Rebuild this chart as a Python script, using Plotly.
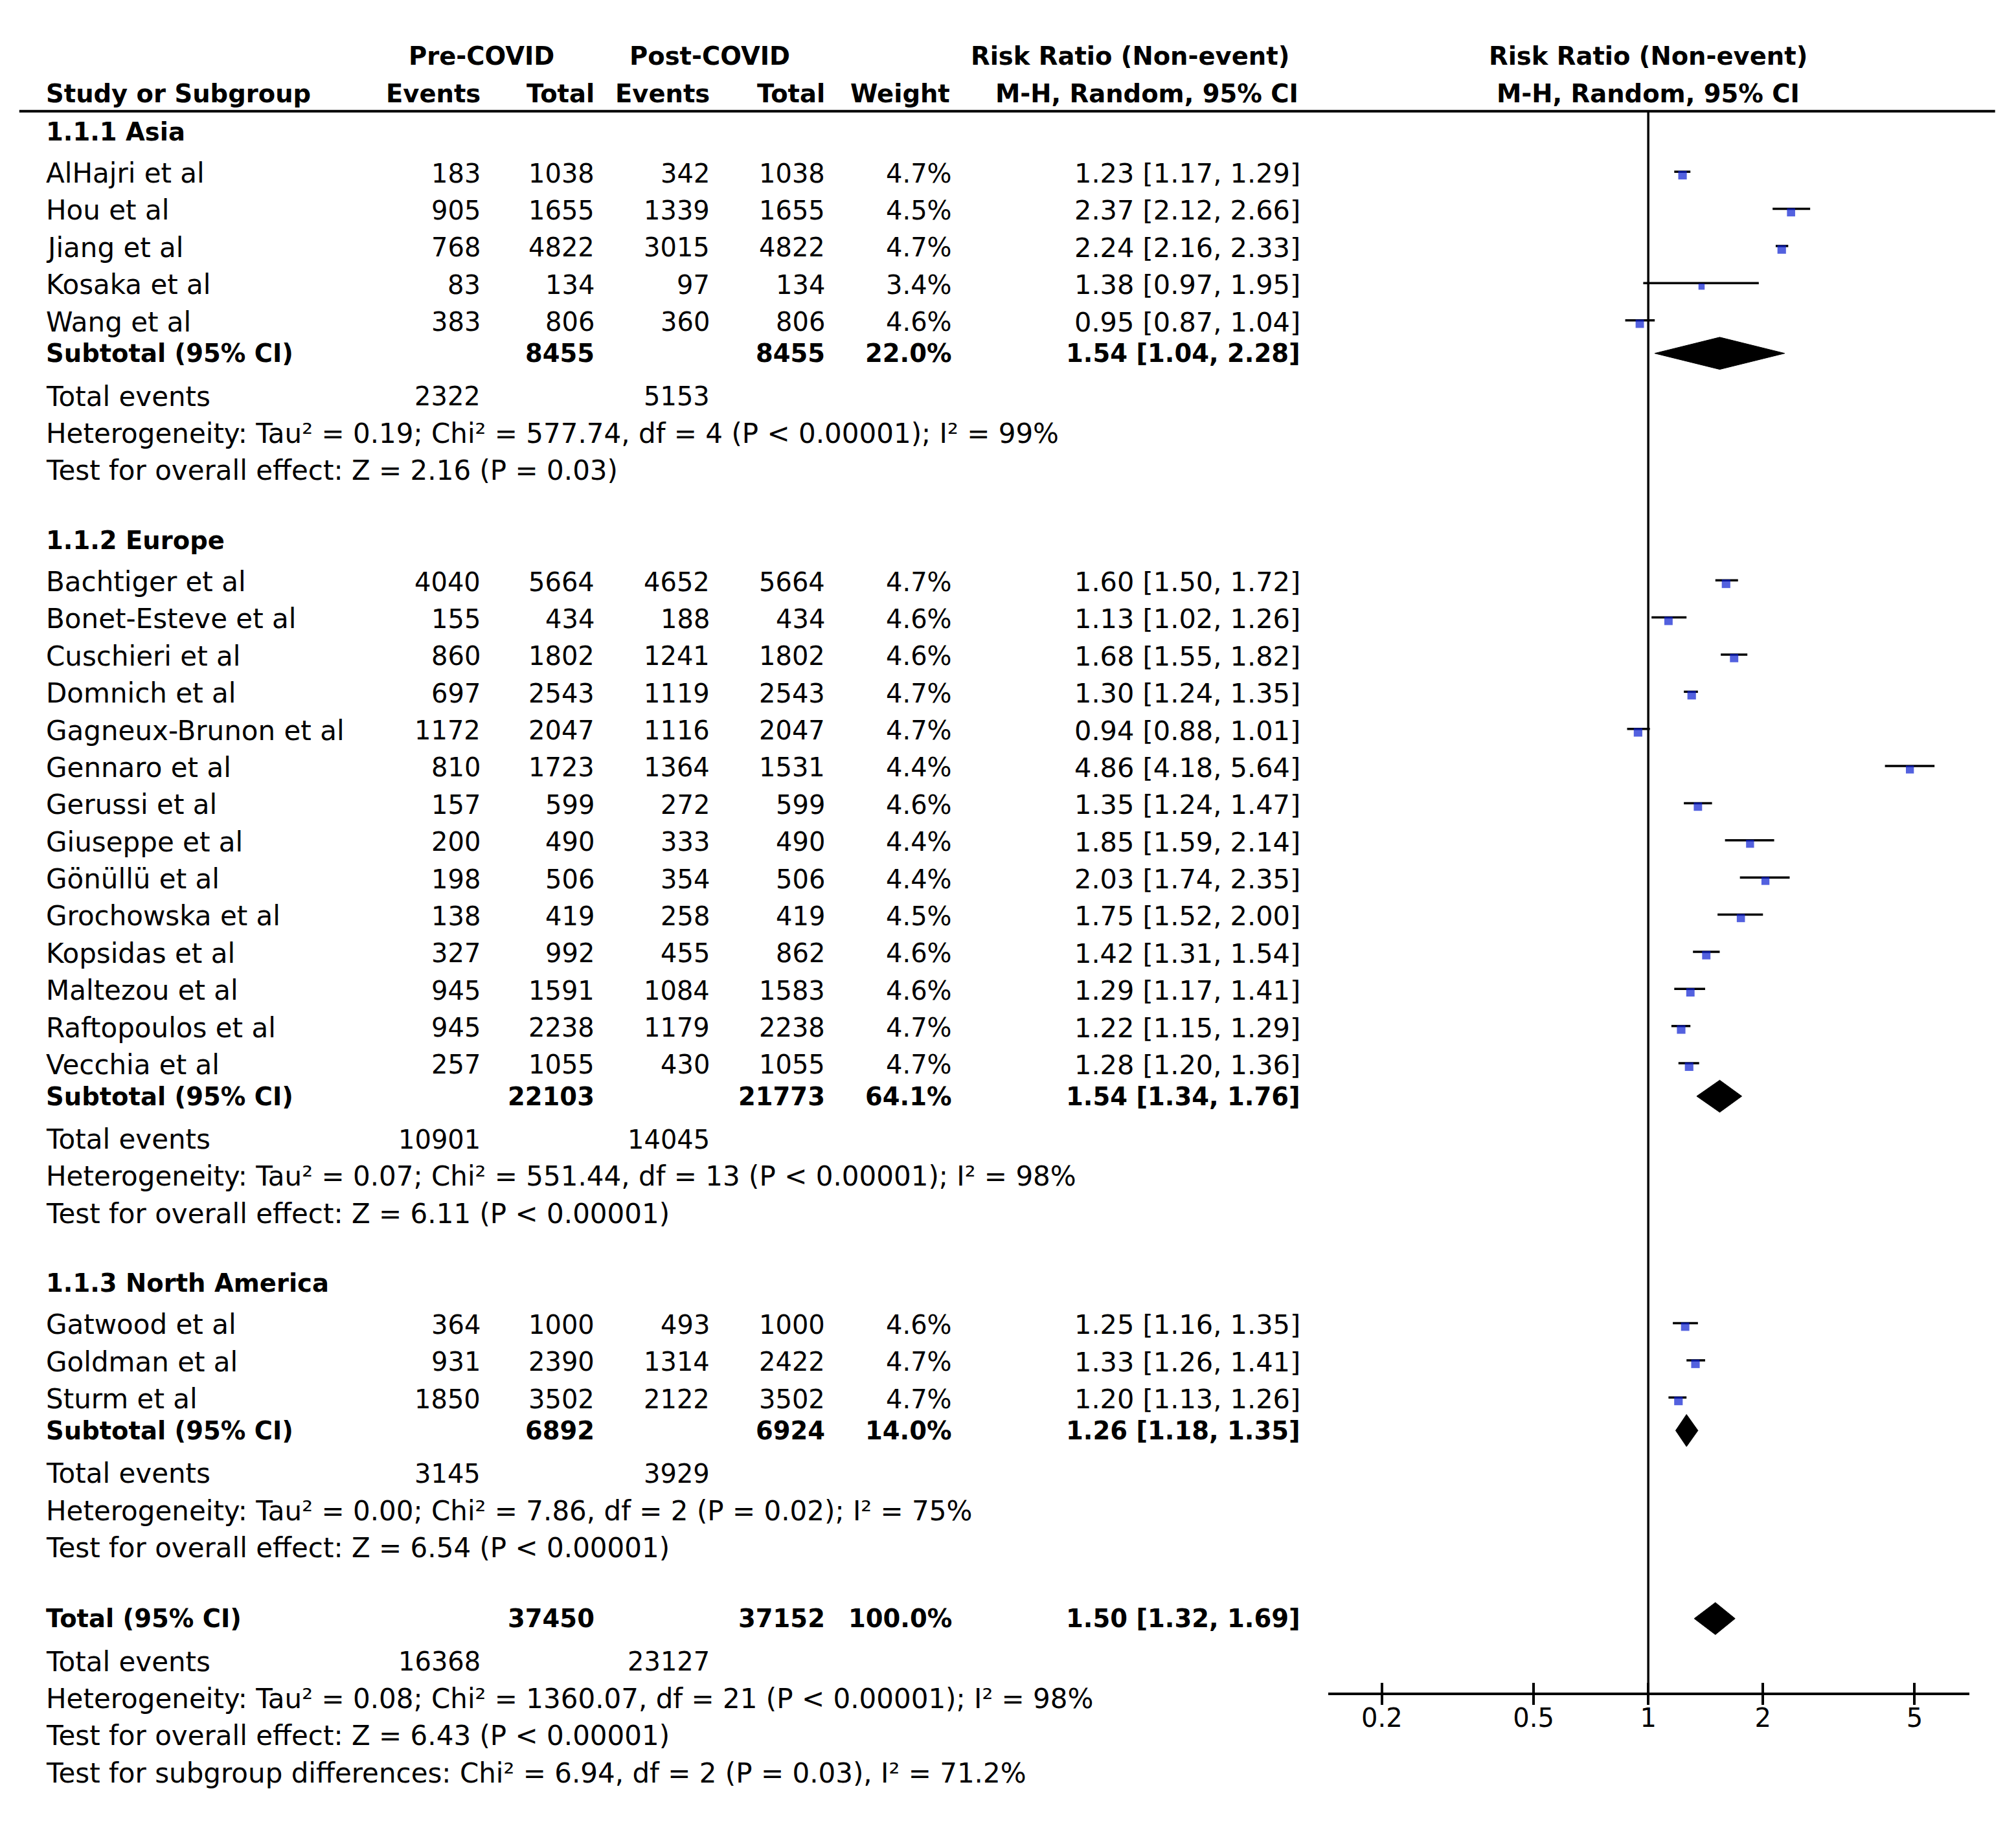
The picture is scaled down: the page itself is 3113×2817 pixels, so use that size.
import plotly.graph_objects as go
import math

# ---------------- data ----------------
studies = ["AlHajri et al", "Hou et al", "Jiang et al", "Kosaka et al", "Wang et al",
           "Bachtiger et al", "Bonet-Esteve et al", "Cuschieri et al", "Domnich et al",
           "Gagneux-Brunon et al", "Gennaro et al", "Gerussi et al", "Giuseppe et al",
           "Gönüllü et al", "Grochowska et al", "Kopsidas et al", "Maltezou et al",
           "Raftopoulos et al", "Vecchia et al",
           "Gatwood et al", "Goldman et al", "Sturm et al"]
study_group = [0] * 5 + [1] * 14 + [2] * 3
pre_events = [183, 905, 768, 83, 383,
              4040, 155, 860, 697, 1172, 810, 157, 200, 198, 138, 327, 945, 945, 257,
              364, 931, 1850]
pre_total = [1038, 1655, 4822, 134, 806,
             5664, 434, 1802, 2543, 2047, 1723, 599, 490, 506, 419, 992, 1591, 2238, 1055,
             1000, 2390, 3502]
post_events = [342, 1339, 3015, 97, 360,
               4652, 188, 1241, 1119, 1116, 1364, 272, 333, 354, 258, 455, 1084, 1179, 430,
               493, 1314, 2122]
post_total = [1038, 1655, 4822, 134, 806,
              5664, 434, 1802, 2543, 2047, 1531, 599, 490, 506, 419, 862, 1583, 2238, 1055,
              1000, 2422, 3502]
weight = [4.7, 4.5, 4.7, 3.4, 4.6,
          4.7, 4.6, 4.6, 4.7, 4.7, 4.4, 4.6, 4.4, 4.4, 4.5, 4.6, 4.6, 4.7, 4.7,
          4.6, 4.7, 4.7]
rr = [1.23, 2.37, 2.24, 1.38, 0.95,
      1.60, 1.13, 1.68, 1.30, 0.94, 4.86, 1.35, 1.85, 2.03, 1.75, 1.42, 1.29, 1.22, 1.28,
      1.25, 1.33, 1.20]
rr_lo = [1.17, 2.12, 2.16, 0.97, 0.87,
         1.50, 1.02, 1.55, 1.24, 0.88, 4.18, 1.24, 1.59, 1.74, 1.52, 1.31, 1.17, 1.15, 1.20,
         1.16, 1.26, 1.13]
rr_hi = [1.29, 2.66, 2.33, 1.95, 1.04,
         1.72, 1.26, 1.82, 1.35, 1.01, 5.64, 1.47, 2.14, 2.35, 2.00, 1.54, 1.41, 1.29, 1.36,
         1.35, 1.41, 1.26]

group_names = ["1.1.1 Asia", "1.1.2 Europe", "1.1.3 North America"]
sub_pre_total = [8455, 22103, 6892]
sub_post_total = [8455, 21773, 6924]
sub_weight = [22.0, 64.1, 14.0]
sub_rr = [1.54, 1.54, 1.26]
sub_lo = [1.04, 1.34, 1.18]
sub_hi = [2.28, 1.76, 1.35]
sub_pre_events = [2322, 10901, 3145]
sub_post_events = [5153, 14045, 3929]
sub_het = ["Heterogeneity: Tau² = 0.19; Chi² = 577.74, df = 4 (P < 0.00001); I² = 99%",
           "Heterogeneity: Tau² = 0.07; Chi² = 551.44, df = 13 (P < 0.00001); I² = 98%",
           "Heterogeneity: Tau² = 0.00; Chi² = 7.86, df = 2 (P = 0.02); I² = 75%"]
sub_test = ["Test for overall effect: Z = 2.16 (P = 0.03)",
            "Test for overall effect: Z = 6.11 (P < 0.00001)",
            "Test for overall effect: Z = 6.54 (P < 0.00001)"]

tot_pre_total = 37450
tot_post_total = 37152
tot_weight = 100.0
tot_rr, tot_lo, tot_hi = 1.50, 1.32, 1.69
tot_pre_events = 16368
tot_post_events = 23127
tot_het = "Heterogeneity: Tau² = 0.08; Chi² = 1360.07, df = 21 (P < 0.00001); I² = 98%"
tot_test = "Test for overall effect: Z = 6.43 (P < 0.00001)"
tot_subgroup = "Test for subgroup differences: Chi² = 6.94, df = 2 (P = 0.03), I² = 71.2%"

tick_vals = [0.2, 0.5, 1, 2, 5]
tick_text = ["0.2", "0.5", "1", "2", "5"]

# ---------------- layout geometry (design units) ----------------
W, H = 3113, 2817
S = 1.985                      # design unit -> pixel
DW, DH = W / S, H / S          # design canvas size
FONT = "DejaVu Sans"
FS_BOLD = 38.5
FS_REG = 42
FS_NUM = 40
BLUE = "#0A1ED2"

def px(d):
    return d / DW

def py(d):
    return 1 - d / DH

COL_NAME = 35
COL_PRE_EV = 375
COL_PRE_TOT = 463.5
COL_POST_EV = 553
COL_POST_TOT = 643
COL_W = 741.5
COL_CI = 1012.5
PLOT_L, PLOT_R = 1033, 1532
CENTER_X = 1282.2
DECADE = 296.4
AXIS_Y = 1317
HEAD_LINE_Y = 86.5

PITCH = 28.9
annotations = []

def cell(text, x, y, anchor="right", bold=False, size=None):
    if size is None:
        size = FS_BOLD if bold else FS_NUM
    t = f"<b>{text}</b>" if bold else text
    annotations.append(dict(text=t, x=px(x), y=py(y), xref="paper", yref="paper",
                            xanchor=anchor, yanchor="middle", showarrow=False,
                            font=dict(family=FONT, size=size, color="black")))

def label(text, x, y):
    cell(text, x, y, "left", False, FS_REG)

def fmt_ci(a, b, c):
    return f"{a:.2f} [{b:.2f}, {c:.2f}]"

# headers
cell("Pre-COVID", 374.5, 43.8, "center", True)
cell("Post-COVID", 552, 43.8, "center", True)
cell("Risk Ratio (Non-event)", 1004, 43.8, "right", True)
cell("Risk Ratio (Non-event)", CENTER_X, 43.8, "center", True)
cell("Study or Subgroup", COL_NAME, 73, "left", True)
cell("Events", COL_PRE_EV, 73, "right", True)
cell("Total", COL_PRE_TOT, 73, "right", True)
cell("Events", COL_POST_EV, 73, "right", True)
cell("Total", COL_POST_TOT, 73, "right", True)
cell("Weight", 740, 73, "right", True)
cell("M-H, Random, 95% CI", 1011, 73, "right", True)
cell("M-H, Random, 95% CI", CENTER_X, 73, "center", True)

study_y = [0.0] * len(studies)
sub_y = []
y = 102.3
for g, gname in enumerate(group_names):
    cell(gname, COL_NAME, y, "left", True)
    idx = [i for i, sg in enumerate(study_group) if sg == g]
    yy = y + 32.5
    for k, i in enumerate(idx):
        yi = yy + k * PITCH
        study_y[i] = yi
        label(studies[i], COL_NAME, yi)
        cell(str(pre_events[i]), COL_PRE_EV, yi)
        cell(str(pre_total[i]), COL_PRE_TOT, yi)
        cell(str(post_events[i]), COL_POST_EV, yi)
        cell(str(post_total[i]), COL_POST_TOT, yi)
        cell(f"{weight[i]:.1f}%", COL_W, yi)
        cell(fmt_ci(rr[i], rr_lo[i], rr_hi[i]), COL_CI, yi, size=41.5)
    ys = study_y[idx[-1]] + 24.5
    sub_y.append(ys)
    cell("Subtotal (95% CI)", COL_NAME, ys, "left", True)
    cell(str(sub_pre_total[g]), COL_PRE_TOT, ys, bold=True)
    cell(str(sub_post_total[g]), COL_POST_TOT, ys, bold=True)
    cell(f"{sub_weight[g]:.1f}%", COL_W, ys, bold=True)
    cell(fmt_ci(sub_rr[g], sub_lo[g], sub_hi[g]), COL_CI, ys, bold=True)
    yt = ys + 33.5
    label("Total events", COL_NAME, yt)
    cell(str(sub_pre_events[g]), COL_PRE_EV, yt)
    cell(str(sub_post_events[g]), COL_POST_EV, yt)
    label(sub_het[g], COL_NAME, yt + PITCH)
    label(sub_test[g], COL_NAME, yt + 2 * PITCH)
    y = yt + 2 * PITCH + 54

total_y = y + 1
cell("Total (95% CI)", COL_NAME, total_y, "left", True)
cell(str(tot_pre_total), COL_PRE_TOT, total_y, bold=True)
cell(str(tot_post_total), COL_POST_TOT, total_y, bold=True)
cell(f"{tot_weight:.1f}%", COL_W, total_y, bold=True)
cell(fmt_ci(tot_rr, tot_lo, tot_hi), COL_CI, total_y, bold=True)
yt = total_y + 33.5
label("Total events", COL_NAME, yt)
cell(str(tot_pre_events), COL_PRE_EV, yt)
cell(str(tot_post_events), COL_POST_EV, yt)
label(tot_het, COL_NAME, yt + PITCH)
label(tot_test, COL_NAME, yt + 2 * PITCH)
label(tot_subgroup, COL_NAME, yt + 3 * PITCH)

# ---------------- forest marks ----------------
fig = go.Figure()

ci_x, ci_y = [], []
for i in range(len(studies)):
    ci_x += [rr_lo[i], rr_hi[i], None]
    ci_y += [study_y[i] - 1.2, study_y[i] - 1.2, None]
fig.add_trace(go.Scatter(x=ci_x, y=ci_y, mode="lines",
                         line=dict(color="black", width=3.5),
                         hoverinfo="skip", showlegend=False, cliponaxis=False))

fig.add_trace(go.Scatter(x=rr, y=[v + 1.5 for v in study_y], mode="markers",
                         marker=dict(symbol="square", color=BLUE,
                                     size=[w * 2.8 for w in weight], line=dict(width=0)),
                         showlegend=False, cliponaxis=False))

HALF = 12.5
dx, dy = [], []
for est, lo, hi, yc in list(zip(sub_rr, sub_lo, sub_hi, sub_y)) + [(tot_rr, tot_lo, tot_hi, total_y)]:
    dx += [lo, est, hi, est, lo, None]
    dy += [yc, yc - HALF, yc, yc + HALF, yc, None]
fig.add_trace(go.Scatter(x=dx, y=dy, mode="lines", fill="toself", fillcolor="black",
                         line=dict(color="black", width=1), showlegend=False,
                         hoverinfo="skip"))

# ---------------- axes ----------------
x_left = (PLOT_L - CENTER_X) / DECADE
x_right = (PLOT_R - CENTER_X) / DECADE
dom = [px(PLOT_L), px(PLOT_R)]
ydom = [1 - AXIS_Y / DH, 1]

common_x = dict(type="log", domain=dom, range=[x_left, x_right], showgrid=False,
                zeroline=False, showline=True, linecolor="black", linewidth=4,
                tickmode="array", tickvals=tick_vals, ticklen=15, tickwidth=3.5,
                tickcolor="black", fixedrange=True)

fig.update_layout(
    width=W, height=H,
    margin=dict(l=0, r=0, t=0, b=0),
    paper_bgcolor="white", plot_bgcolor="white",
    xaxis=dict(**common_x, ticks="outside", ticktext=tick_text,
               ticklabelstandoff=-14,
               tickfont=dict(family=FONT, size=FS_NUM, color="black")),
    xaxis2=dict(**common_x, ticks="inside", showticklabels=False,
                overlaying="x", anchor="y", side="bottom"),
    yaxis=dict(domain=ydom, range=[AXIS_Y, 0], visible=False, fixedrange=True),
    annotations=annotations,
    shapes=[
        dict(type="line", xref="paper", yref="paper", x0=px(15), x1=px(1552),
             y0=py(HEAD_LINE_Y), y1=py(HEAD_LINE_Y), line=dict(color="black", width=4)),
        dict(type="line", xref="x", yref="y", x0=1, x1=1, y0=HEAD_LINE_Y, y1=AXIS_Y,
             line=dict(color="black", width=3.5)),
    ],
    showlegend=False,
)
# invisible trace to activate the overlay axis
fig.add_trace(go.Scatter(x=[1], y=[AXIS_Y], xaxis="x2", mode="markers",
                         marker=dict(opacity=0), hoverinfo="skip", showlegend=False))

fig.write_html("out.html", config={"displayModeBar": False},
               post_script="document.body.style.margin='0';")
